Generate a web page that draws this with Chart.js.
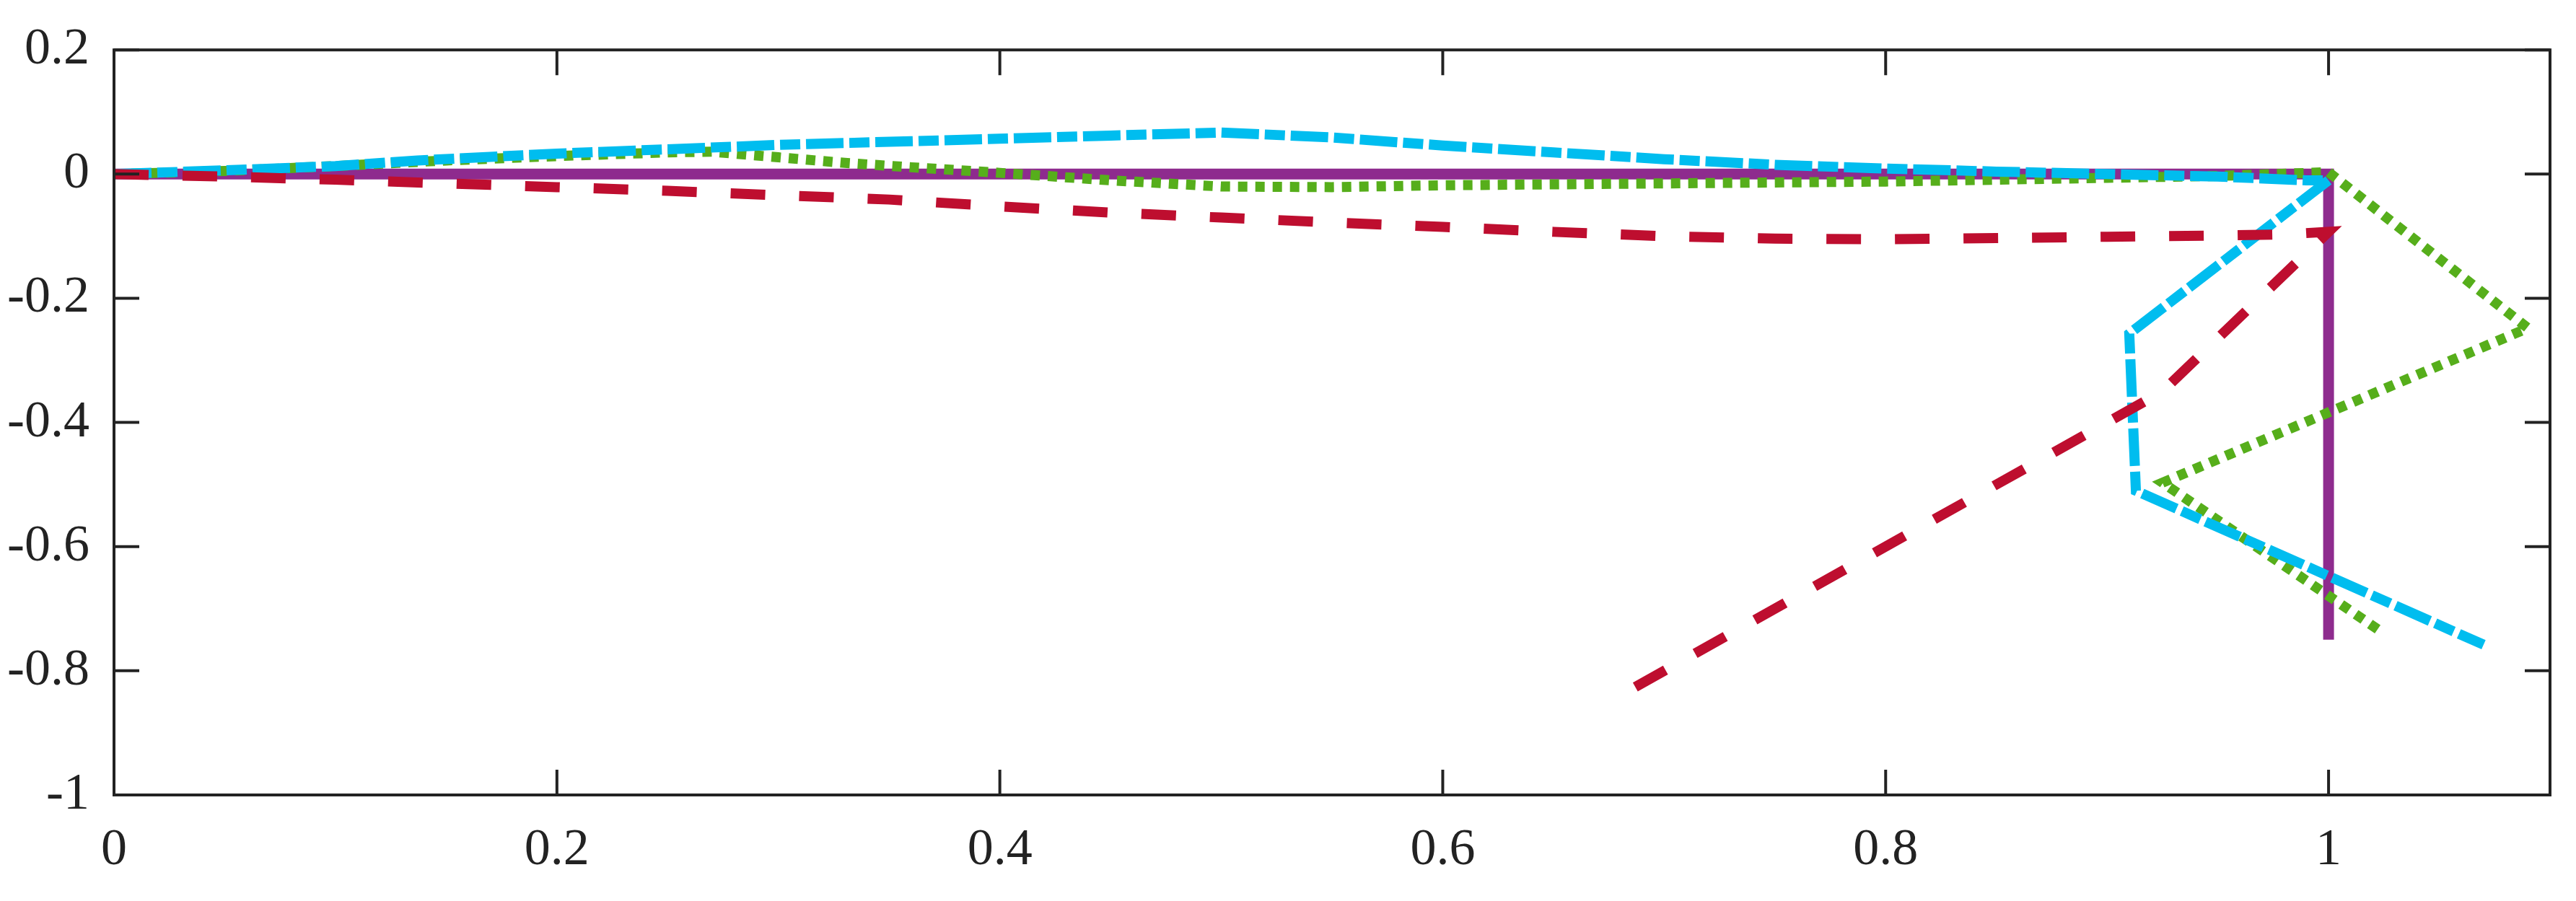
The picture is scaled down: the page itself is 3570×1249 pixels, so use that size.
<!DOCTYPE html>
<html>
<head>
<meta charset="utf-8">
<script src="https://cdn.jsdelivr.net/npm/chart.js@4.4.1/dist/chart.umd.min.js"></script>
<style>
  html, body { margin: 0; padding: 0; background: #fff; }
  canvas { display: block; }
</style>
</head>
<body>
<canvas id="chart_lines" width="3570" height="1249"></canvas>
<script>
// axis ticks
var xTicks = [0, 0.2, 0.4, 0.6, 0.8, 1];
var xTickLabels = ["0", "0.2", "0.4", "0.6", "0.8", "1"];
var yTicks = [-1, -0.8, -0.6, -0.4, -0.2, 0, 0.2];
var yTickLabels = ["-1", "-0.8", "-0.6", "-0.4", "-0.2", "0", "0.2"];

// purple solid
var purpleX = [0, 1, 1];
var purpleY = [0, 0, -0.75];

// red dashed
var redX = [0, 0.05, 0.1, 0.15, 0.2, 0.25, 0.3, 0.35, 0.4, 0.45, 0.5, 0.55, 0.6, 0.65, 0.7, 0.75, 0.8, 0.85, 0.9, 0.95, 0.98, 1, 0.925, 0.675];
var redY = [0, -0.004, -0.009, -0.015, -0.021, -0.027, -0.034, -0.041, -0.052, -0.062, -0.07, -0.078, -0.085, -0.093, -0.1, -0.104, -0.105, -0.103, -0.101, -0.099, -0.097, -0.093, -0.35, -0.85];

// cyan dash-dot
var cyanX = [0, 0.05, 0.1, 0.137, 0.2, 0.25, 0.3, 0.36, 0.4, 0.45, 0.5, 0.55, 0.6, 0.65, 0.7, 0.75, 0.8, 0.85, 0.9, 0.95, 0.99, 1, 0.91, 0.913, 1.07];
var cyanY = [0, 0.006, 0.013, 0.022, 0.033, 0.04, 0.047, 0.053, 0.057, 0.062, 0.067, 0.059, 0.046, 0.035, 0.024, 0.015, 0.009, 0.004, 0, -0.004, -0.01, -0.01, -0.257, -0.51, -0.758];

// green dotted
var greenX = [0, 0.05, 0.1, 0.15, 0.2, 0.25, 0.27, 0.3, 0.33, 0.36, 0.4, 0.45, 0.5, 0.55, 0.6, 0.7, 0.8, 0.9, 0.95, 1, 1.09, 0.925, 1.025];
var greenY = [0, 0.005, 0.013, 0.022, 0.029, 0.035, 0.036, 0.027, 0.018, 0.011, 0.002, -0.01, -0.02, -0.021, -0.018, -0.015, -0.012, -0.006, -0.003, 0.003, -0.248, -0.497, -0.74];

function toPoints(xs, ys) {
    return xs.map(function (x, i) { return { x: x, y: ys[i] }; });
}

var axisColor = "#222222";

// box round the plot, ticks pointing inward on all four sides
var framePlugin = {
    id: "frame",
    afterDraw: function (chart) {
        var ctx = chart.ctx;
        var a = chart.chartArea;
        var xs = chart.scales.x;
        var ys = chart.scales.y;
        var len = 35;
        ctx.save();
        ctx.strokeStyle = axisColor;
        ctx.lineWidth = 4;
        ctx.beginPath();
        xTicks.forEach(function (v) {
            var px = xs.getPixelForValue(v);
            ctx.moveTo(px, a.bottom);
            ctx.lineTo(px, a.bottom - len);
            ctx.moveTo(px, a.top);
            ctx.lineTo(px, a.top + len);
        });
        yTicks.forEach(function (v) {
            var py = ys.getPixelForValue(v);
            ctx.moveTo(a.left, py);
            ctx.lineTo(a.left + len, py);
            ctx.moveTo(a.right, py);
            ctx.lineTo(a.right - len, py);
        });
        ctx.stroke();
        ctx.strokeRect(a.left, a.top, a.right - a.left, a.bottom - a.top);
        ctx.restore();
    }
};

var tickFont = { family: "'Liberation Serif', 'DejaVu Serif', serif", size: 72 };

var ctxLines = document.getElementById("chart_lines").getContext("2d");
var chartLines = new Chart(ctxLines, {
    type: "scatter",
    data: {
        datasets: [{
            label: "red",
            data: toPoints(redX, redY),
            borderColor: "#BE0E2F",
            borderWidth: 14,
            borderDash: [48, 47],
            order: 1
        }, {
            label: "cyan",
            data: toPoints(cyanX, cyanY),
            borderColor: "#00BDEF",
            borderWidth: 14,
            borderDash: [52, 8, 28, 8],
            order: 2
        }, {
            label: "green",
            data: toPoints(greenX, greenY),
            borderColor: "#56AE1B",
            borderWidth: 14,
            borderDash: [13, 11],
            order: 3
        }, {
            label: "purple",
            data: toPoints(purpleX, purpleY),
            borderColor: "#8E2B8E",
            borderWidth: 15,
            order: 4
        }]
    },
    options: {
        responsive: false,
        animation: false,
        showLine: true,
        elements: {
            point: { radius: 0, hoverRadius: 0 },
            line: { tension: 0, fill: false, borderJoinStyle: "miter" }
        },
        layout: { padding: { top: 69, right: 36, left: 0, bottom: 0 } },
        plugins: {
            legend: { display: false },
            tooltip: { enabled: false }
        },
        scales: {
            x: {
                type: "linear",
                min: 0,
                max: 1.1,
                grid: { display: false },
                border: { display: false },
                afterBuildTicks: function (s) {
                    s.ticks = xTicks.map(function (v) { return { value: v }; });
                },
                afterFit: function (s) { s.height = 147; },
                ticks: {
                    padding: 26,
                    color: axisColor,
                    font: tickFont,
                    maxRotation: 0,
                    callback: function (value, index) { return xTickLabels[index]; }
                }
            },
            y: {
                type: "linear",
                min: -1,
                max: 0.2,
                grid: { display: false },
                border: { display: false },
                afterBuildTicks: function (s) {
                    s.ticks = yTicks.map(function (v) { return { value: v }; });
                },
                afterFit: function (s) { s.width = 158; },
                ticks: {
                    padding: 26,
                    color: axisColor,
                    font: tickFont,
                    callback: function (value, index) { return yTickLabels[index]; }
                }
            }
        }
    },
    plugins: [framePlugin]
});
</script>
</body>
</html>
